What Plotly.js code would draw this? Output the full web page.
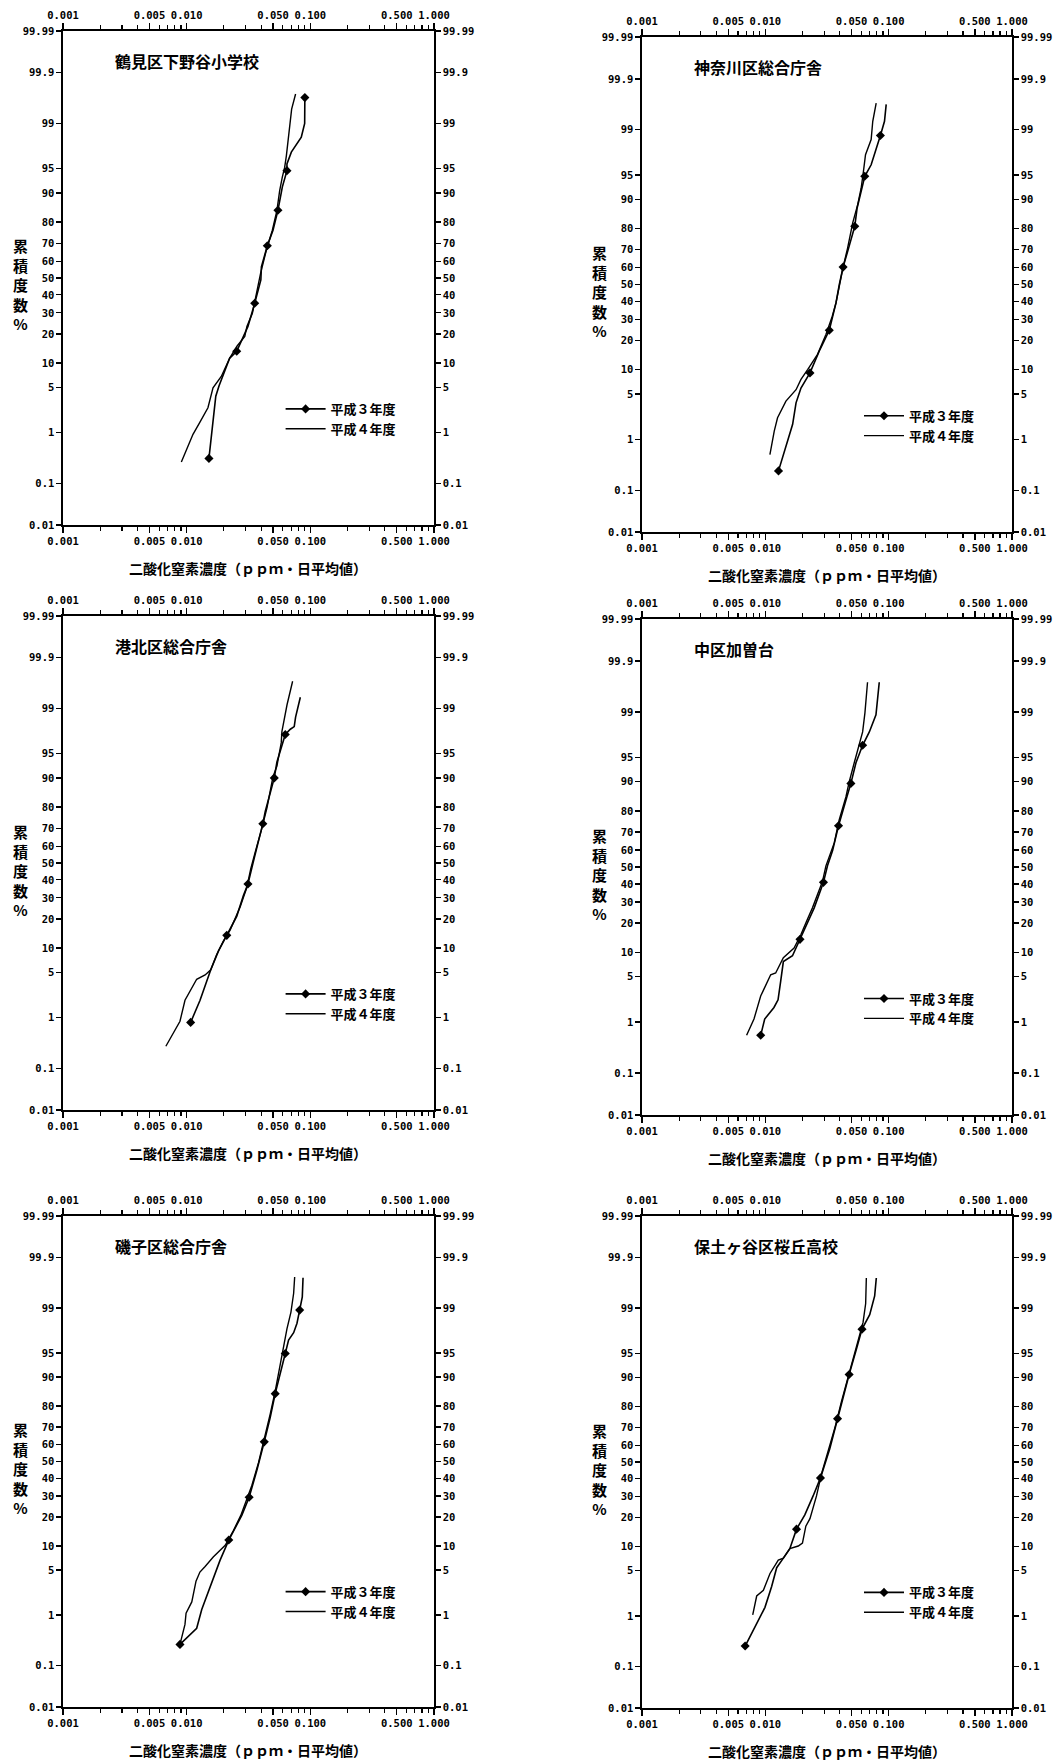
<!DOCTYPE html>
<html><head><meta charset="utf-8">
<script src="https://cdn.plot.ly/plotly-3.0.1.min.js"></script>
<style>html,body{margin:0;padding:0;background:#fff;}#chart{width:1053px;height:1762px;}</style>
</head><body><div id="chart"></div>
<script>
// ---------- labels ----------
const stations = ['鶴見区下野谷小学校','神奈川区総合庁舎','港北区総合庁舎','中区加曽台','磯子区総合庁舎','保土ヶ谷区桜丘高校'];
const seriesNames = ['平成３年度','平成４年度'];
const xTitle = '二酸化窒素濃度（ｐｐｍ・日平均値）';
const yTitle = '累<br>積<br>度<br>数<br>%';
const xTickVals = [0.001,0.005,0.01,0.05,0.1,0.5,1];
const xTickText = ['0.001','0.005','0.010','0.050','0.100','0.500','1.000'];
const yTickPct = [0.01,0.1,1,5,10,20,30,40,50,60,70,80,90,95,99,99.9,99.99];
const yTickText = ['0.01','0.1','1','5','10','20','30','40','50','60','70','80','90','95','99','99.9','99.99'];

// ---------- data (ppm, cumulative %) ----------
const p1_h3_ppm = [0.01514,0.01633,0.0172,0.01825,0.01945,0.0223,0.0254,0.0313,0.0355,0.0398,0.0402,0.0449,0.0499,0.0547,0.0594,0.0647,0.0647,0.0702,0.0845,0.090,0.0903];
const p1_h3_pct = [0.33,1.66,3.75,5.2,6.9,11.4,13.5,23.3,35.2,48.8,56.7,68.6,76.4,84.6,91.5,94.7,95.7,97.1,98.3,99.0,99.67];
const p1_h3_mark = [1,0,0,0,0,0,1,0,1,0,0,1,0,1,0,1,0,0,0,0,1];
const p1_h4_ppm = [0.00906,0.01026,0.01125,0.01274,0.01486,0.01633,0.01738,0.01905,0.0223,0.0255,0.0295,0.0307,0.0340,0.0366,0.0396,0.0441,0.0493,0.0537,0.0565,0.0594,0.0620,0.0640,0.0672,0.0706,0.0760];
const p1_h4_pct = [0.28,0.57,0.93,1.47,2.54,4.9,5.7,6.9,11.4,15.2,18.9,23.3,29.8,40.9,52.8,66.3,76.4,84.6,90.6,93.6,95.2,96.7,98.5,99.45,99.72];

const p2_h3_ppm = [0.01279,0.01469,0.01665,0.01774,0.01945,0.0230,0.0250,0.0274,0.0330,0.0351,0.0374,0.0398,0.0427,0.0474,0.0531,0.0555,0.0598,0.0640,0.0721,0.0781,0.0857,0.0925,0.0955];
const p2_h3_pct = [0.255,0.71,1.78,3.77,6.0,9.2,12.0,15.9,24.6,31.7,39.1,50,60.3,70.9,80.9,87.5,91.9,94.8,96.4,97.7,98.74,99.29,99.66];
const p2_h3_mark = [1,0,0,0,0,1,0,0,1,0,0,0,1,0,1,0,0,1,0,0,1,0,0];
const p2_h4_ppm = [0.01089,0.01181,0.01256,0.01469,0.01774,0.01945,0.0221,0.0265,0.0310,0.0349,0.0374,0.0398,0.0427,0.0465,0.0511,0.0561,0.0598,0.0624,0.0649,0.0721,0.0743,0.0792];
const p2_h4_pct = [0.53,1.38,2.26,3.99,5.7,7.7,10.1,14.7,22.6,31.7,39.1,50,60.3,70.9,82.3,88.5,92.6,95.5,97.45,98.53,99.29,99.68];

const p3_h3_ppm = [0.01077,0.01283,0.01436,0.01566,0.0181,0.0211,0.0254,0.0288,0.0313,0.0347,0.0381,0.0413,0.0432,0.0459,0.0511,0.0537,0.0582,0.0627,0.0689,0.0741,0.0760,0.0830];
const p3_h3_pct = [0.82,1.94,3.53,5.4,9.3,13.8,21.1,31.3,37.6,51.1,62.4,72.3,78.1,82.8,90.0,93.6,96.0,97.35,97.8,98.0,98.6,99.37];
const p3_h3_mark = [1,0,0,0,0,1,0,0,1,0,0,1,0,0,1,0,0,1,0,0,0,0];
const p3_h4_ppm = [0.00679,0.00789,0.00883,0.00969,0.01064,0.01205,0.01410,0.01566,0.0175,0.0198,0.0225,0.0239,0.0271,0.0306,0.0330,0.0370,0.0401,0.0446,0.0498,0.0537,0.0582,0.0589,0.0648,0.0719];
const p3_h4_pct = [0.29,0.53,0.86,1.94,2.72,4.0,4.6,5.4,8.4,12.0,15.7,18.7,25.5,35.5,46.6,60.2,68.7,79.7,90.2,92.8,96.5,97.6,99.14,99.69];

const p4_h3_ppm = [0.00917,0.00988,0.01175,0.01268,0.01333,0.0140,0.0166,0.0191,0.0219,0.0249,0.0296,0.0319,0.0351,0.0392,0.0458,0.0494,0.0543,0.0615,0.0697,0.0789,0.0839];
const p4_h3_pct = [0.58,1.13,1.76,2.32,4.4,7.8,9.15,13.9,20.7,27.0,40.9,50.7,59.7,73.2,85.3,89.5,94.1,96.6,97.86,98.88,99.72];
const p4_h3_mark = [1,0,0,0,0,0,0,1,0,0,1,0,0,1,0,1,0,1,0,0,0];
const p4_h4_ppm = [0.00705,0.00809,0.00917,0.01105,0.01213,0.0140,0.0171,0.0194,0.0219,0.0241,0.0291,0.0310,0.0362,0.0397,0.0450,0.0479,0.0526,0.0578,0.0615,0.0642,0.0674];
const p4_h4_pct = [0.58,1.13,2.65,5.3,5.6,8.7,11.2,15.5,21.6,27.0,41.6,50.7,64.1,76.0,85.3,90.0,94.1,96.6,97.86,98.96,99.72];

const p5_h3_ppm = [0.00883,0.01205,0.01324,0.01545,0.0186,0.0219,0.0279,0.0320,0.0370,0.0424,0.0474,0.0520,0.0578,0.0627,0.0667,0.0733,0.0780,0.0820,0.0861,0.0873];
const p5_h3_pct = [0.28,0.575,1.25,2.87,6.7,11.7,20.7,29.4,44.8,61.7,74.8,84.8,91.2,94.9,96.7,97.45,98.19,98.91,99.37,99.73];
const p5_h3_mark = [1,0,0,0,0,1,0,1,0,1,0,1,0,1,0,0,0,1,0,0];
const p5_h4_ppm = [0.00883,0.00969,0.00989,0.0110,0.0119,0.0128,0.0141,0.0164,0.0205,0.0239,0.0274,0.0306,0.0337,0.0381,0.0432,0.0474,0.0520,0.0564,0.0589,0.0608,0.0647,0.0697,0.0733,0.0747];
const p5_h4_pct = [0.28,0.68,1.08,1.67,3.5,4.7,5.6,7.4,10.2,14.8,20.7,27.8,36.0,49.3,64.9,76.5,85.7,92.1,94.9,96.2,97.77,98.82,99.46,99.74];

const p6_h3_ppm = [0.00686,0.00851,0.00993,0.01125,0.01236,0.0140,0.0158,0.0179,0.0209,0.0244,0.0280,0.0333,0.0385,0.0427,0.0478,0.0548,0.0608,0.0702,0.0770,0.0794];
const p6_h3_pct = [0.27,0.71,1.40,3.0,5.5,7.3,9.5,15.5,21.2,30.4,40.5,57.9,74.4,83.4,90.7,95.6,97.77,98.70,99.40,99.73];
const p6_h3_mark = [1,0,0,0,0,0,0,1,0,0,1,0,1,0,1,0,1,0,0,0];
const p6_h4_ppm = [0.00790,0.00851,0.00964,0.01091,0.01274,0.0140,0.0158,0.0185,0.0200,0.0213,0.0230,0.0260,0.0286,0.0329,0.0366,0.0414,0.0469,0.0531,0.0582,0.0620,0.0651,0.0659];
const p6_h4_pct = [1.04,2.14,2.62,4.6,6.9,7.3,9.5,10.2,11.0,16.6,19.6,30.4,43.2,59.0,69.6,81.9,90.0,95.1,97.4,98.26,99.17,99.73];

const panels = [
  {h3x:p1_h3_ppm,h3y:p1_h3_pct,h3m:p1_h3_mark,h4x:p1_h4_ppm,h4y:p1_h4_pct},
  {h3x:p2_h3_ppm,h3y:p2_h3_pct,h3m:p2_h3_mark,h4x:p2_h4_ppm,h4y:p2_h4_pct},
  {h3x:p3_h3_ppm,h3y:p3_h3_pct,h3m:p3_h3_mark,h4x:p3_h4_ppm,h4y:p3_h4_pct},
  {h3x:p4_h3_ppm,h3y:p4_h3_pct,h3m:p4_h3_mark,h4x:p4_h4_ppm,h4y:p4_h4_pct},
  {h3x:p5_h3_ppm,h3y:p5_h3_pct,h3m:p5_h3_mark,h4x:p5_h4_ppm,h4y:p5_h4_pct},
  {h3x:p6_h3_ppm,h3y:p6_h3_pct,h3m:p6_h3_mark,h4x:p6_h4_ppm,h4y:p6_h4_pct}
];

// ---------- normal probability scale ----------
function probit(p){
  const a=[-3.969683028665376e+01,2.209460984245205e+02,-2.759285104469687e+02,1.383577518672690e+02,-3.066479806614716e+01,2.506628277459239e+00];
  const b=[-5.447609879822406e+01,1.615858368580409e+02,-1.556989798598866e+02,6.680131188771972e+01,-1.328068155288572e+01];
  const c=[-7.784894002430293e-03,-3.223964580411365e-01,-2.400758277161838e+00,-2.549732539343734e+00,4.374664141464968e+00,2.938163982698783e+00];
  const d=[7.784695709041462e-03,3.224671290700398e-01,2.445134137142996e+00,3.754408661907416e+00];
  const pl=0.02425, ph=1-pl; let q,r;
  if(p<pl){q=Math.sqrt(-2*Math.log(p));return (((((c[0]*q+c[1])*q+c[2])*q+c[3])*q+c[4])*q+c[5])/((((d[0]*q+d[1])*q+d[2])*q+d[3])*q+1);}
  if(p<=ph){q=p-0.5;r=q*q;return (((((a[0]*r+a[1])*r+a[2])*r+a[3])*r+a[4])*r+a[5])*q/(((((b[0]*r+b[1])*r+b[2])*r+b[3])*r+b[4])*r+1);}
  q=Math.sqrt(-2*Math.log(1-p));return -(((((c[0]*q+c[1])*q+c[2])*q+c[3])*q+c[4])*q+c[5])/((((d[0]*q+d[1])*q+d[2])*q+d[3])*q+1);
}

// ---------- layout ----------
const W=1053, H=1762;
const boxes = [[63,31,434,525],[642,37,1012,532],[63,616,434,1110],[642,619,1012,1115],[63,1216,434,1707],[642,1216,1012,1708]];
const yRange = [probit(0.0001), probit(0.9999)];
const yTickVals = yTickPct.map(v=>probit(v/100));
const xMinor = [];
[0.001,0.01,0.1].forEach(dd=>[2,3,4,6,7,8,9].forEach(m=>xMinor.push(+(m*dd).toPrecision(3))));

const tickFont = {family:'DejaVu Sans Mono', size:10.5, color:'#000', weight:'bold'};
const cjkFont = (s)=>({family:'Noto Sans CJK JP', size:s, color:'#000', weight:'bold'});

const layout = {width:W, height:H, margin:{l:0,r:0,t:0,b:0}, paper_bgcolor:'#fff', plot_bgcolor:'#fff',
  annotations:[], showlegend:true};
const data = [];

function xAxis(domain, extra){
  return Object.assign({type:'log', range:[-3,0], domain:domain, showline:true, linecolor:'#000', linewidth:1.6,
    ticks:'outside', ticklen:6, tickwidth:1.3, tickcolor:'#000', tickmode:'array', tickvals:xTickVals, ticktext:xTickText,
    tickfont:tickFont, showgrid:false, zeroline:false, fixedrange:true,
    minor:{tickmode:'array', tickvals:xMinor, ticks:'outside', ticklen:4, tickwidth:1.2, tickcolor:'#000', showgrid:false}}, extra);
}
function yAxis(domain, extra){
  return Object.assign({range:yRange, domain:domain, showline:true, linecolor:'#000', linewidth:1.6,
    ticks:'outside', ticklen:5, tickwidth:1.3, tickcolor:'#000', tickmode:'array', tickvals:yTickVals, ticktext:yTickText,
    tickfont:tickFont, showgrid:false, zeroline:false, fixedrange:true}, extra);
}

panels.forEach((pd,k)=>{
  const [l,t,r,b] = boxes[k];
  const xd=[l/W, r/W], yd=[1-b/H, 1-t/H];
  const n1=2*k+1, n2=2*k+2;
  const xk1 = n1===1?'xaxis':'xaxis'+n1, xr1 = n1===1?'x':'x'+n1;
  const yk1 = n1===1?'yaxis':'yaxis'+n1, yr1 = n1===1?'y':'y'+n1;
  const xr2 = 'x'+n2, yr2 = 'y'+n2;
  layout[xk1] = xAxis(xd, {anchor:yr1, side:'bottom'});
  layout['xaxis'+n2] = xAxis(xd, {anchor:yr1, side:'top', overlaying:xr1});
  layout[yk1] = yAxis(yd, {anchor:xr1, side:'left'});
  layout['yaxis'+n2] = yAxis(yd, {anchor:xr1, side:'right', overlaying:yr1});
  const lg = k===0?'legend':'legend'+(k+1);
  layout[lg] = {x:(l+0.6*(r-l)-5)/W, y:1-(b-0.245*(b-t)-10)/H, xanchor:'left', yanchor:'top',
    bgcolor:'rgba(0,0,0,0)', borderwidth:0, font:cjkFont(13), itemwidth:40, tracegroupgap:0, traceorder:'normal'};
  data.push({x:pd.h3x, y:pd.h3y.map(p=>probit(p/100)), xaxis:xr1, yaxis:yr1, legend:lg, name:seriesNames[0],
    mode:'lines+markers', line:{color:'#000', width:1.6},
    marker:{symbol:'diamond', size:7, color:pd.h3m.map(m=>m?'#000':'rgba(0,0,0,0)'), line:{width:0}}, hoverinfo:'skip'});
  // second series is drawn on the mirrored (top/right) axes, which share the same ranges
  data.push({x:pd.h4x, y:pd.h4y.map(p=>probit(p/100)), xaxis:xr2, yaxis:yr2, legend:lg, name:seriesNames[1],
    mode:'lines', line:{color:'#000', width:1.4}, hoverinfo:'skip'});
  const xdom = xr1+' domain', ydom = yr1+' domain';
  layout.annotations.push({xref:xdom, yref:ydom, x:0, y:1, xshift:50, yshift:-30, xanchor:'left', yanchor:'middle',
    text:stations[k], showarrow:false, font:cjkFont(16)});
  layout.annotations.push({xref:xdom, yref:ydom, x:0, y:0.5, xshift:-43, yshift:-7, xanchor:'center', yanchor:'middle',
    text:yTitle, showarrow:false, font:cjkFont(15)});
  layout.annotations.push({xref:xdom, yref:ydom, x:0.5, y:0, yshift:-43, xanchor:'center', yanchor:'middle',
    text:xTitle, showarrow:false, font:cjkFont(14)});
});

Plotly.newPlot('chart', data, layout, {staticPlot:true, displayModeBar:false});
</script></body></html>
